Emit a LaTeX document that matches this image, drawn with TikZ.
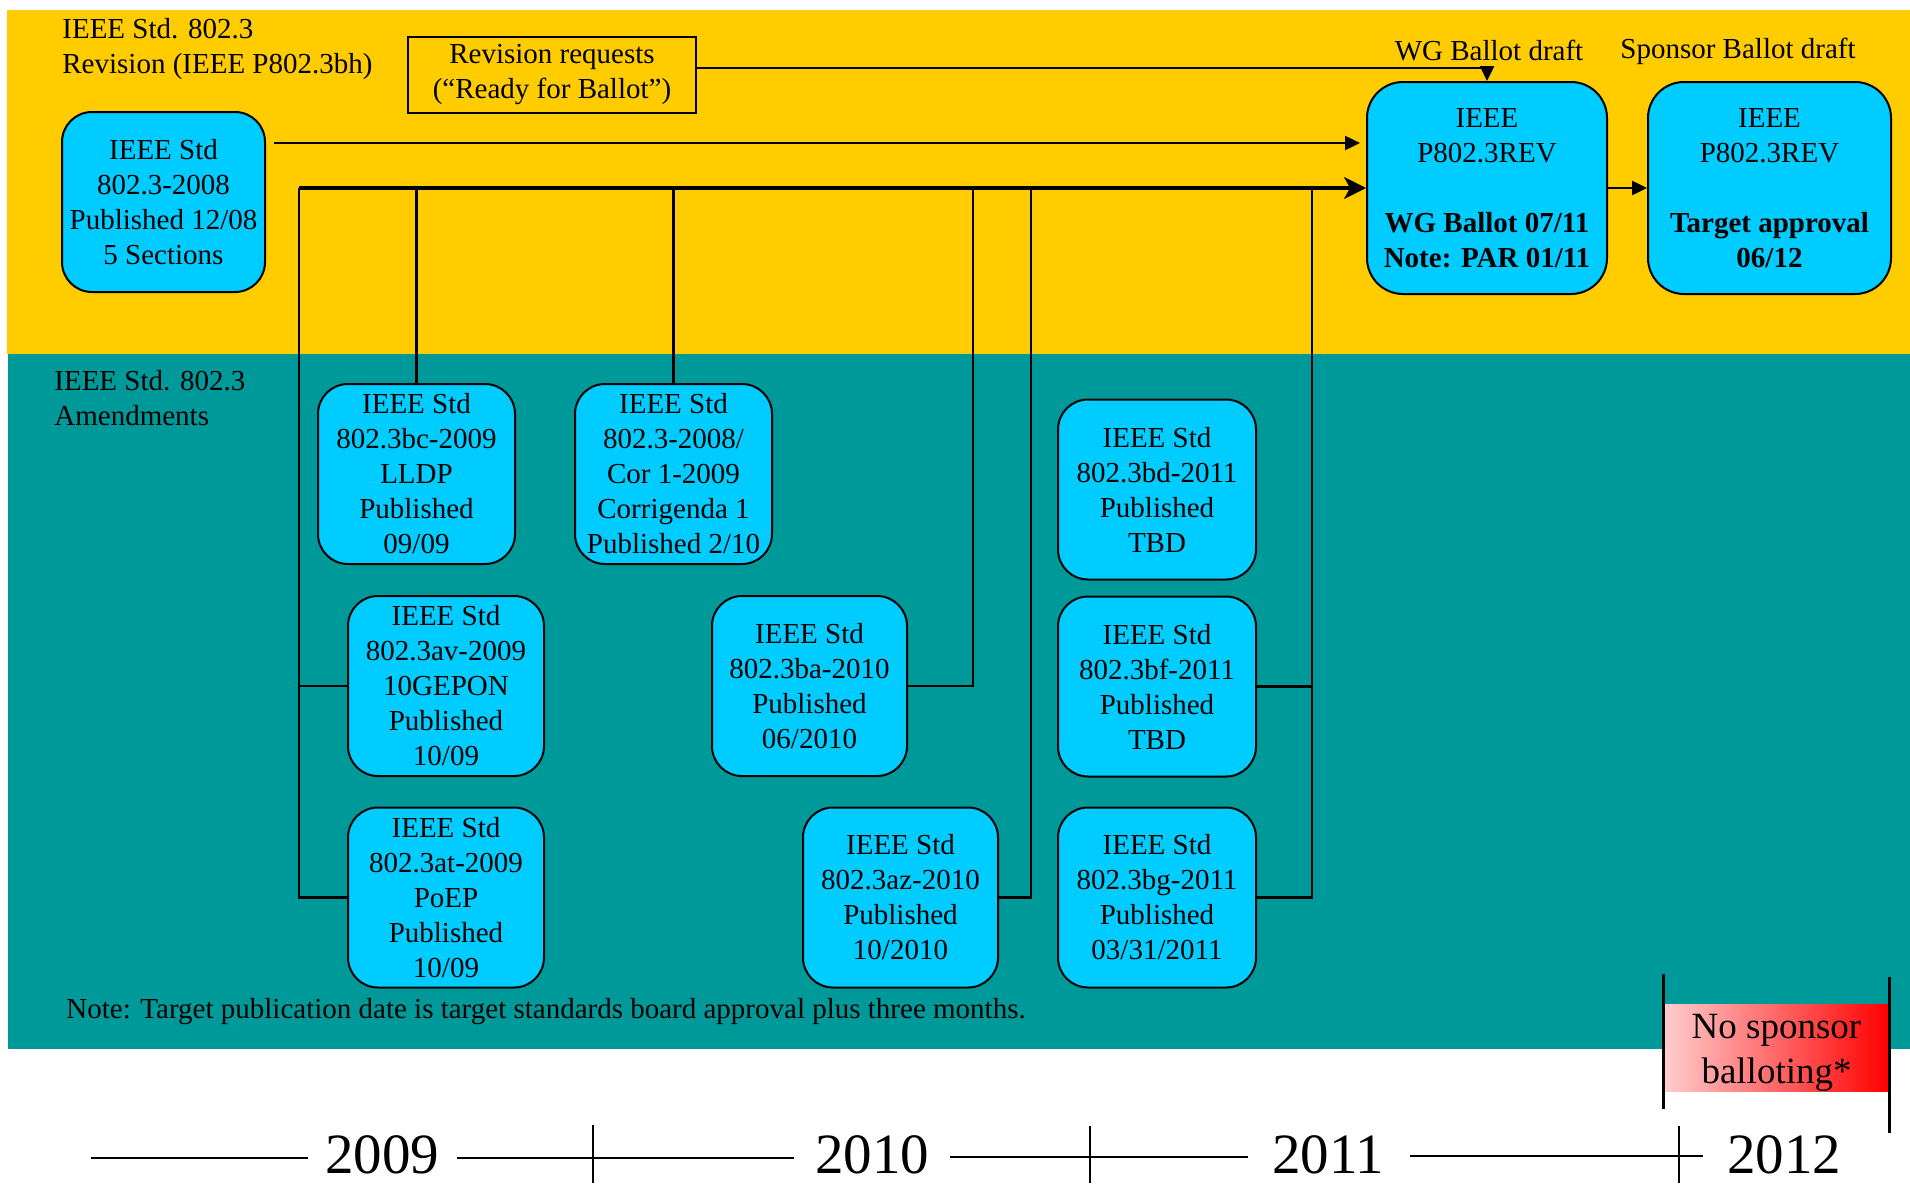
\documentclass[tikz,border=0pt]{standalone}
\usepackage{fontspec}
\setmainfont{Liberation Serif}
\usetikzlibrary{arrows.meta}
\definecolor{bandyellow}{RGB}{255,204,0}
\definecolor{bandteal}{RGB}{0,153,153}
\definecolor{boxcyan}{RGB}{0,204,255}
\definecolor{pinklight}{RGB}{255,205,205}
\begin{document}
\begin{tikzpicture}[x=0.5pt,y=-0.5pt,
  every node/.style={font=\fontsize{14.5}{17.5}\selectfont},
  stdbox/.style={draw=black, line width=1pt, fill=boxcyan, rounded corners=15pt,
    align=center, inner sep=0pt, minimum width=98.5pt, minimum height=90pt},
  bigbox/.style={stdbox, rounded corners=18pt, minimum width=120pt, minimum height=106pt},
  plainbox/.style={draw=black, line width=1pt, align=center, inner sep=0pt,
    minimum width=144pt, minimum height=38pt},
  lbl/.style={inner sep=0pt},
  conn/.style={draw=black, line width=1.2pt},
  busline/.style={draw=black, line width=1.6pt},
  tri/.style={-{Triangle[length=7.5pt,width=7pt]}},
  stl/.style={-{Stealth[length=11pt,width=11pt,inset=3pt]}},
  year/.style={inner sep=0pt, font=\fontsize{28.5}{34}\selectfont},
  tline/.style={draw=black, line width=1.2pt},
  tick/.style={draw=black, line width=0.8pt}
]
\useasboundingbox (0,0) rectangle (1910,1183);
% bands
\fill[bandyellow] (7,10) rectangle (1910,354);
\fill[bandteal] (8,354) rectangle (1910,1049);

% labels
\node[lbl, anchor=west, align=left] (revlbl) at (62,49.5) {IEEE Std. 802.3\\Revision (IEEE P802.3bh)};
\node[lbl, anchor=west, align=left] (amdlbl) at (54,398) {IEEE Std. 802.3\\Amendments};
\node[lbl, anchor=west] (note) at (66,1012) {Note: Target publication date is target standards board approval plus three months.};
\node[lbl] (wgdraft) at (1489,51) {WG Ballot draft};
\node[lbl] (spdraft) at (1738,51) {Sponsor Ballot draft};

% boxes
\node[plainbox] (rev) at (552,75) {Revision requests\\(“Ready for Ballot”)};
\node[stdbox, minimum width=101.5pt] (s2008) at (163.5,202) {IEEE Std\\802.3-2008\\Published 12/08\\5 Sections};
\node[bigbox] (wg) at (1487,188) {IEEE\\P802.3REV\\[17.5pt]\textbf{WG Ballot 07/11}\\\textbf{Note: PAR 01/11}};
\node[bigbox, minimum width=121.5pt] (sp) at (1769.5,188) {IEEE\\P802.3REV\\[17.5pt]\textbf{Target approval}\\\textbf{06/12}};

\node[stdbox] (bc) at (416.5,474) {IEEE Std\\802.3bc-2009\\LLDP\\Published\\09/09};
\node[stdbox] (cor) at (673.5,474) {IEEE Std\\802.3-2008/\\Cor 1-2009\\Corrigenda 1\\Published 2/10};
\node[stdbox, minimum width=98pt] (av) at (446,686) {IEEE Std\\802.3av-2009\\10GEPON\\Published\\10/09};
\node[stdbox, minimum width=98pt] (at) at (446,897.5) {IEEE Std\\802.3at-2009\\PoEP\\Published\\10/09};
\node[stdbox, minimum width=97.5pt] (ba) at (809.5,686) {IEEE Std\\802.3ba-2010\\Published\\06/2010};
\node[stdbox, minimum width=97.5pt] (az) at (900.5,897.5) {IEEE Std\\802.3az-2010\\Published\\10/2010};
\node[stdbox, minimum width=99pt] (bd) at (1157,489.5) {IEEE Std\\802.3bd-2011\\Published\\TBD};
\node[stdbox, minimum width=99pt] (bf) at (1157,686.5) {IEEE Std\\802.3bf-2011\\Published\\TBD};
\node[stdbox, minimum width=99pt] (bg) at (1157,897.5) {IEEE Std\\802.3bg-2011\\Published\\03/31/2011};

% connectors
\draw[conn, tri] ([yshift=3.5pt]rev.east) -| (wg.north);
\draw[conn, tri] ([xshift=4pt,yshift=29.5pt]s2008.east) -- ([xshift=-3pt,yshift=29.5pt]wg.west |- s2008.east);
\draw[conn] (at.west) -- ++(-24pt,0) coordinate (leftbus) -- (leftbus |- wg.west);
\draw[busline, stl] (leftbus |- wg.west) -- (wg.west);
\draw[conn] (av.west) -- ++(-24pt,0);
\draw[conn] (bc.north) -- (bc.north |- wg.west);
\draw[conn] (cor.north) -- (cor.north |- wg.west);
\draw[conn] (ba.east) -- ++(32.5pt,0) coordinate (bax) -- (bax |- wg.west);
\draw[conn] (az.east) -- ++(16pt,0) coordinate (azx) -- (azx |- wg.west);
\draw[conn] (bf.east) -- ++(27.5pt,0) coordinate (bfx) -- (bfx |- wg.west);
\draw[conn] (bg.east) -| (bfx);
\draw[conn, tri] (wg.east) -- (sp.west);

% no sponsor balloting
\node[lbl, left color=pinklight, right color=red, minimum width=112.5pt, minimum height=43.5pt] (nosp) at (1776.5,1047.5) {};
\node[lbl, align=center, font=\fontsize{18.5}{22.5}\selectfont] (nosptxt) at ([yshift=-2.5pt]nosp.center) {No sponsor\\balloting*};
\draw[conn] ([yshift=15pt]nosp.north west) -- ([yshift=-9pt]nosp.south west);
\draw[conn] ([yshift=13.5pt]nosp.north east) -- ([yshift=-21pt]nosp.south east);

% timeline
\node[year] (y2009) at (382,1155) {2009};
\node[year] (y2010) at (872,1155) {2010};
\node[year] (y2011) at (1328,1155) {2011};
\node[year] (y2012) at (1784,1155) {2012};
\draw[tline] (91,1158) -- (308,1158);
\draw[tline] (457,1158) -- (794,1158);
\draw[tline] (950,1157) -- (1248,1157);
\draw[tline] (1410,1156) -- (1703,1156);
\draw[tick] (593,1125) -- (593,1183);
\draw[tick] (1090,1126) -- (1090,1183);
\draw[tick] (1679,1126) -- (1679,1183);
\end{tikzpicture}
\end{document}
